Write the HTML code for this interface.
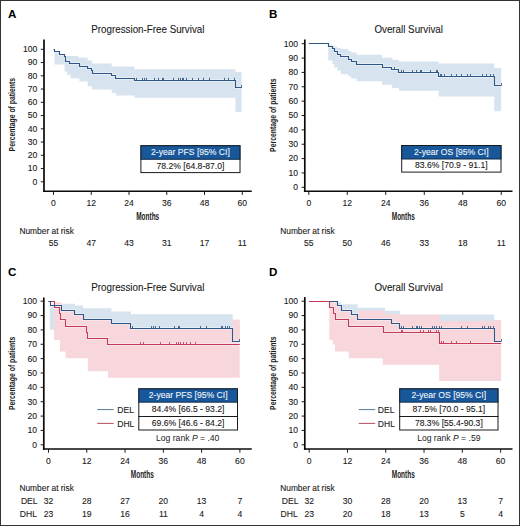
<!DOCTYPE html>
<html><head><meta charset="utf-8"><style>
html,body{margin:0;padding:0;background:#fff;}
#f{position:relative;width:520px;height:526px;overflow:hidden;background:#fff;}
#f svg{position:absolute;left:0;top:0;}
#f .bd{position:absolute;left:0;top:0;width:518px;height:524px;border:1px solid #333;}
</style></head><body><div id="f"><svg width="520" height="526" viewBox="0 0 520 526" font-family='"Liberation Sans", sans-serif'>
<path d="M54.50,51.70L59.20,51.70L59.20,54.10L64.60,54.10L64.60,56.00L78.50,56.00L78.50,57.70L87.60,57.70L87.60,60.50L92.20,60.50L92.20,63.50L111.70,63.50L111.70,66.50L134.60,66.50L134.60,69.20L235.40,69.20L235.40,72.00L241.70,72.00L241.70,111.90L235.40,111.90L235.40,97.70L134.60,97.70L134.60,95.40L115.80,95.40L115.80,93.00L111.70,93.00L111.70,89.60L92.20,89.60L92.20,86.20L87.70,86.20L87.70,81.60L79.40,81.60L79.40,78.20L70.50,78.20L70.50,74.80L67.10,74.80L67.10,71.40L64.60,71.40L64.60,64.50L54.50,64.50Z" fill="#d7e4f0"/><path d="M328.30,44.50L332.40,44.50L332.40,45.80L334.30,45.80L334.30,46.80L337.40,46.80L337.40,48.00L340.80,48.00L340.80,49.10L348.20,49.10L348.20,51.00L351.20,51.00L351.20,52.50L356.60,52.50L356.60,54.80L382.10,54.80L382.10,57.80L392.20,57.80L392.20,59.80L398.90,59.80L398.90,61.40L438.60,61.40L438.60,63.50L494.20,63.50L494.20,68.10L501.20,68.10L501.20,111.20L494.20,111.20L494.20,96.50L438.60,96.50L438.60,90.80L398.90,90.80L398.90,88.10L392.20,88.10L392.20,84.70L382.10,84.70L382.10,81.30L356.60,81.30L356.60,78.50L351.20,78.50L351.20,76.50L348.20,76.50L348.20,74.20L340.80,74.20L340.80,70.80L337.40,70.80L337.40,67.40L334.30,67.40L334.30,64.00L332.40,64.00L332.40,60.50L328.30,60.50Z" fill="#d7e4f0"/><path d="M49.80,305.60L54.10,305.60L54.10,303.00L61.30,303.00L61.30,303.70L74.80,303.70L74.80,305.60L83.20,305.60L83.20,308.30L111.40,308.30L111.40,311.40L131.00,311.40L131.00,314.20L232.80,314.20L232.80,319.80L239.70,319.80L239.70,340.00L54.10,340.00L54.10,329.70L49.80,329.70Z" fill="#d7e4f0"/><path d="M54.10,302.30L61.30,302.30L61.30,310.20L74.60,310.20L74.60,314.70L83.20,314.70L83.20,319.20L111.50,319.20L111.50,323.60L130.50,323.60L130.50,328.10L232.80,328.10L232.80,319.80L239.70,319.80L239.70,377.80L108.00,377.80L108.00,371.20L87.80,371.20L87.80,358.30L65.60,358.30L65.60,351.50L60.00,351.50L60.00,339.80L54.10,339.80Z" fill="#f7d6dc"/><path d="M337.50,302.50L341.30,302.50L341.30,304.20L357.70,304.20L357.70,307.70L385.00,307.70L385.00,310.80L400.00,310.80L400.00,314.50L494.30,314.50L494.30,320.00L501.10,320.00L501.10,330.00L337.50,330.00Z" fill="#d7e4f0"/><path d="M329.30,301.20L337.50,301.20L337.50,305.70L341.30,305.70L341.30,310.20L351.90,310.20L351.90,314.70L357.70,314.70L357.70,310.40L385.00,310.40L385.00,314.20L400.00,314.20L400.00,314.70L440.00,314.70L440.00,321.00L494.30,321.00L494.30,320.00L501.10,320.00L501.10,381.00L439.20,381.00L439.20,364.80L382.70,364.80L382.70,358.30L348.80,358.30L348.80,351.40L335.00,351.40L335.00,344.50L332.70,344.50L332.70,339.80L329.30,339.80Z" fill="#f7d6dc"/><path d="M53.50,49.50H54.50V51.50H59.50V54.50H64.50V56.50H65.50V58.50H65.50V61.50H69.50V63.50H79.50V66.50H87.50V68.50H91.50V70.50H92.50V73.50H111.50V75.50H115.50V78.50H134.50V80.50H235.50V87.50H241.70" fill="none" stroke="#ffffff" stroke-opacity="0.35" stroke-width="3"/><path d="M308.80,43.50H328.50V46.50H332.50V48.50H334.50V51.50H337.50V54.50H340.50V56.50H348.50V59.50H351.50V61.50H356.50V64.50H382.50V67.50H391.50V69.50H398.50V72.50H438.50V76.50H494.50V85.50H501.20" fill="none" stroke="#ffffff" stroke-opacity="0.35" stroke-width="3"/><path d="M48.50,301.50H50.50V305.50H61.50V310.50H74.50V314.50H83.50V319.50H111.50V323.50H130.50V328.50H232.50V341.50H239.70" fill="none" stroke="#ffffff" stroke-opacity="0.35" stroke-width="3"/><path d="M48.50,301.50H54.50V307.50H59.50V313.50H60.50V319.50H65.50V326.50H86.50V332.50H87.50V338.50H107.50V344.50H239.70" fill="none" stroke="#ffffff" stroke-opacity="0.35" stroke-width="3"/><path d="M309.20,301.50H337.50V305.50H341.50V310.50H351.50V314.50H357.50V319.50H391.50V323.50H399.50V328.50H494.50V341.50H501.10" fill="none" stroke="#ffffff" stroke-opacity="0.35" stroke-width="3"/><path d="M309.20,301.50H329.50V307.50H333.50V313.50H335.50V319.50H348.50V326.50H383.50V332.50H439.50V343.50H501.10" fill="none" stroke="#ffffff" stroke-opacity="0.35" stroke-width="3"/><path d="M53.50,49.50H54.50V51.50H59.50V54.50H64.50V56.50H65.50V58.50H65.50V61.50H69.50V63.50H79.50V66.50H87.50V68.50H91.50V70.50H92.50V73.50H111.50V75.50H115.50V78.50H134.50V80.50H235.50V87.50H241.70" fill="none" stroke="#2e5785" stroke-width="1.15"/><line x1="136.50" y1="80.50" x2="136.50" y2="77.90" stroke="#2e5785" stroke-width="0.9"/><line x1="142.50" y1="80.50" x2="142.50" y2="77.90" stroke="#2e5785" stroke-width="0.9"/><line x1="144.50" y1="80.50" x2="144.50" y2="77.90" stroke="#2e5785" stroke-width="0.9"/><line x1="146.50" y1="80.50" x2="146.50" y2="77.90" stroke="#2e5785" stroke-width="0.9"/><line x1="154.50" y1="80.50" x2="154.50" y2="77.90" stroke="#2e5785" stroke-width="0.9"/><line x1="158.50" y1="80.50" x2="158.50" y2="77.90" stroke="#2e5785" stroke-width="0.9"/><line x1="162.50" y1="80.50" x2="162.50" y2="77.90" stroke="#2e5785" stroke-width="0.9"/><line x1="163.50" y1="80.50" x2="163.50" y2="77.90" stroke="#2e5785" stroke-width="0.9"/><line x1="173.50" y1="80.50" x2="173.50" y2="77.90" stroke="#2e5785" stroke-width="0.9"/><line x1="178.50" y1="80.50" x2="178.50" y2="77.90" stroke="#2e5785" stroke-width="0.9"/><line x1="180.50" y1="80.50" x2="180.50" y2="77.90" stroke="#2e5785" stroke-width="0.9"/><line x1="182.50" y1="80.50" x2="182.50" y2="77.90" stroke="#2e5785" stroke-width="0.9"/><line x1="183.50" y1="80.50" x2="183.50" y2="77.90" stroke="#2e5785" stroke-width="0.9"/><line x1="186.50" y1="80.50" x2="186.50" y2="77.90" stroke="#2e5785" stroke-width="0.9"/><line x1="192.50" y1="80.50" x2="192.50" y2="77.90" stroke="#2e5785" stroke-width="0.9"/><line x1="198.50" y1="80.50" x2="198.50" y2="77.90" stroke="#2e5785" stroke-width="0.9"/><line x1="203.50" y1="80.50" x2="203.50" y2="77.90" stroke="#2e5785" stroke-width="0.9"/><line x1="209.50" y1="80.50" x2="209.50" y2="77.90" stroke="#2e5785" stroke-width="0.9"/><line x1="224.50" y1="80.50" x2="224.50" y2="77.90" stroke="#2e5785" stroke-width="0.9"/><line x1="228.50" y1="80.50" x2="228.50" y2="77.90" stroke="#2e5785" stroke-width="0.9"/><line x1="234.50" y1="80.50" x2="234.50" y2="77.90" stroke="#2e5785" stroke-width="0.9"/><line x1="241.50" y1="87.50" x2="241.50" y2="85.10" stroke="#2e5785" stroke-width="0.9"/><path d="M308.80,43.50H328.50V46.50H332.50V48.50H334.50V51.50H337.50V54.50H340.50V56.50H348.50V59.50H351.50V61.50H356.50V64.50H382.50V67.50H391.50V69.50H398.50V72.50H438.50V76.50H494.50V85.50H501.20" fill="none" stroke="#2e5785" stroke-width="1.15"/><line x1="394.50" y1="69.50" x2="394.50" y2="67.10" stroke="#2e5785" stroke-width="0.9"/><line x1="401.50" y1="72.50" x2="401.50" y2="70.10" stroke="#2e5785" stroke-width="0.9"/><line x1="403.50" y1="72.50" x2="403.50" y2="70.10" stroke="#2e5785" stroke-width="0.9"/><line x1="412.50" y1="72.50" x2="412.50" y2="70.10" stroke="#2e5785" stroke-width="0.9"/><line x1="416.50" y1="72.50" x2="416.50" y2="70.10" stroke="#2e5785" stroke-width="0.9"/><line x1="420.50" y1="72.50" x2="420.50" y2="70.10" stroke="#2e5785" stroke-width="0.9"/><line x1="421.50" y1="72.50" x2="421.50" y2="70.10" stroke="#2e5785" stroke-width="0.9"/><line x1="430.50" y1="72.50" x2="430.50" y2="70.10" stroke="#2e5785" stroke-width="0.9"/><line x1="436.50" y1="72.50" x2="436.50" y2="70.10" stroke="#2e5785" stroke-width="0.9"/><line x1="437.50" y1="72.50" x2="437.50" y2="70.10" stroke="#2e5785" stroke-width="0.9"/><line x1="440.50" y1="76.50" x2="440.50" y2="74.10" stroke="#2e5785" stroke-width="0.9"/><line x1="441.50" y1="76.50" x2="441.50" y2="74.10" stroke="#2e5785" stroke-width="0.9"/><line x1="444.50" y1="76.50" x2="444.50" y2="74.10" stroke="#2e5785" stroke-width="0.9"/><line x1="451.50" y1="76.50" x2="451.50" y2="74.10" stroke="#2e5785" stroke-width="0.9"/><line x1="456.50" y1="76.50" x2="456.50" y2="74.10" stroke="#2e5785" stroke-width="0.9"/><line x1="461.50" y1="76.50" x2="461.50" y2="74.10" stroke="#2e5785" stroke-width="0.9"/><line x1="467.50" y1="76.50" x2="467.50" y2="74.10" stroke="#2e5785" stroke-width="0.9"/><line x1="470.50" y1="76.50" x2="470.50" y2="74.10" stroke="#2e5785" stroke-width="0.9"/><line x1="482.50" y1="76.50" x2="482.50" y2="74.10" stroke="#2e5785" stroke-width="0.9"/><line x1="486.50" y1="76.50" x2="486.50" y2="74.10" stroke="#2e5785" stroke-width="0.9"/><line x1="490.50" y1="76.50" x2="490.50" y2="74.10" stroke="#2e5785" stroke-width="0.9"/><line x1="493.50" y1="76.50" x2="493.50" y2="74.10" stroke="#2e5785" stroke-width="0.9"/><line x1="501.50" y1="85.50" x2="501.50" y2="83.10" stroke="#2e5785" stroke-width="0.9"/><path d="M48.50,301.50H54.50V307.50H59.50V313.50H60.50V319.50H65.50V326.50H86.50V332.50H87.50V338.50H107.50V344.50H239.70" fill="none" stroke="#c23a58" stroke-width="1.15"/><path d="M48.50,301.50H50.50V305.50H61.50V310.50H74.50V314.50H83.50V319.50H111.50V323.50H130.50V328.50H232.50V341.50H239.70" fill="none" stroke="#2e5785" stroke-width="1.15"/><line x1="132.50" y1="328.50" x2="132.50" y2="326.10" stroke="#2e5785" stroke-width="0.9"/><line x1="151.50" y1="328.50" x2="151.50" y2="326.10" stroke="#2e5785" stroke-width="0.9"/><line x1="153.50" y1="328.50" x2="153.50" y2="326.10" stroke="#2e5785" stroke-width="0.9"/><line x1="155.50" y1="328.50" x2="155.50" y2="326.10" stroke="#2e5785" stroke-width="0.9"/><line x1="159.50" y1="328.50" x2="159.50" y2="326.10" stroke="#2e5785" stroke-width="0.9"/><line x1="174.50" y1="328.50" x2="174.50" y2="326.10" stroke="#2e5785" stroke-width="0.9"/><line x1="178.50" y1="328.50" x2="178.50" y2="326.10" stroke="#2e5785" stroke-width="0.9"/><line x1="179.50" y1="328.50" x2="179.50" y2="326.10" stroke="#2e5785" stroke-width="0.9"/><line x1="200.50" y1="328.50" x2="200.50" y2="326.10" stroke="#2e5785" stroke-width="0.9"/><line x1="206.50" y1="328.50" x2="206.50" y2="326.10" stroke="#2e5785" stroke-width="0.9"/><line x1="221.50" y1="328.50" x2="221.50" y2="326.10" stroke="#2e5785" stroke-width="0.9"/><line x1="222.50" y1="328.50" x2="222.50" y2="326.10" stroke="#2e5785" stroke-width="0.9"/><line x1="225.50" y1="328.50" x2="225.50" y2="326.10" stroke="#2e5785" stroke-width="0.9"/><line x1="227.50" y1="328.50" x2="227.50" y2="326.10" stroke="#2e5785" stroke-width="0.9"/><line x1="229.50" y1="328.50" x2="229.50" y2="326.10" stroke="#2e5785" stroke-width="0.9"/><line x1="140.50" y1="344.50" x2="140.50" y2="342.10" stroke="#c23a58" stroke-width="0.9"/><line x1="143.50" y1="344.50" x2="143.50" y2="342.10" stroke="#c23a58" stroke-width="0.9"/><line x1="160.50" y1="344.50" x2="160.50" y2="342.10" stroke="#c23a58" stroke-width="0.9"/><line x1="169.50" y1="344.50" x2="169.50" y2="342.10" stroke="#c23a58" stroke-width="0.9"/><line x1="176.50" y1="344.50" x2="176.50" y2="342.10" stroke="#c23a58" stroke-width="0.9"/><line x1="178.50" y1="344.50" x2="178.50" y2="342.10" stroke="#c23a58" stroke-width="0.9"/><line x1="180.50" y1="344.50" x2="180.50" y2="342.10" stroke="#c23a58" stroke-width="0.9"/><line x1="183.50" y1="344.50" x2="183.50" y2="342.10" stroke="#c23a58" stroke-width="0.9"/><line x1="186.50" y1="344.50" x2="186.50" y2="342.10" stroke="#c23a58" stroke-width="0.9"/><line x1="190.50" y1="344.50" x2="190.50" y2="342.10" stroke="#c23a58" stroke-width="0.9"/><line x1="195.50" y1="344.50" x2="195.50" y2="342.10" stroke="#c23a58" stroke-width="0.9"/><line x1="239.50" y1="341.50" x2="239.50" y2="339.10" stroke="#2e5785" stroke-width="0.9"/><path d="M309.20,301.50H337.50V305.50H341.50V310.50H351.50V314.50H357.50V319.50H391.50V323.50H399.50V328.50H494.50V341.50H501.10" fill="none" stroke="#2e5785" stroke-width="1.15"/><path d="M309.20,301.50H329.50V307.50H333.50V313.50H335.50V319.50H348.50V326.50H383.50V332.50H439.50V343.50H501.10" fill="none" stroke="#c23a58" stroke-width="1.15"/><line x1="401.50" y1="328.50" x2="401.50" y2="326.10" stroke="#2e5785" stroke-width="0.9"/><line x1="403.50" y1="328.50" x2="403.50" y2="326.10" stroke="#2e5785" stroke-width="0.9"/><line x1="412.50" y1="328.50" x2="412.50" y2="326.10" stroke="#2e5785" stroke-width="0.9"/><line x1="416.50" y1="328.50" x2="416.50" y2="326.10" stroke="#2e5785" stroke-width="0.9"/><line x1="417.50" y1="328.50" x2="417.50" y2="326.10" stroke="#2e5785" stroke-width="0.9"/><line x1="419.50" y1="328.50" x2="419.50" y2="326.10" stroke="#2e5785" stroke-width="0.9"/><line x1="421.50" y1="328.50" x2="421.50" y2="326.10" stroke="#2e5785" stroke-width="0.9"/><line x1="432.50" y1="328.50" x2="432.50" y2="326.10" stroke="#2e5785" stroke-width="0.9"/><line x1="434.50" y1="328.50" x2="434.50" y2="326.10" stroke="#2e5785" stroke-width="0.9"/><line x1="436.50" y1="328.50" x2="436.50" y2="326.10" stroke="#2e5785" stroke-width="0.9"/><line x1="439.50" y1="328.50" x2="439.50" y2="326.10" stroke="#2e5785" stroke-width="0.9"/><line x1="441.50" y1="328.50" x2="441.50" y2="326.10" stroke="#2e5785" stroke-width="0.9"/><line x1="461.50" y1="328.50" x2="461.50" y2="326.10" stroke="#2e5785" stroke-width="0.9"/><line x1="467.50" y1="328.50" x2="467.50" y2="326.10" stroke="#2e5785" stroke-width="0.9"/><line x1="482.50" y1="328.50" x2="482.50" y2="326.10" stroke="#2e5785" stroke-width="0.9"/><line x1="484.50" y1="328.50" x2="484.50" y2="326.10" stroke="#2e5785" stroke-width="0.9"/><line x1="488.50" y1="328.50" x2="488.50" y2="326.10" stroke="#2e5785" stroke-width="0.9"/><line x1="490.50" y1="328.50" x2="490.50" y2="326.10" stroke="#2e5785" stroke-width="0.9"/><line x1="493.50" y1="328.50" x2="493.50" y2="326.10" stroke="#2e5785" stroke-width="0.9"/><line x1="401.50" y1="332.50" x2="401.50" y2="330.10" stroke="#c23a58" stroke-width="0.9"/><line x1="402.50" y1="332.50" x2="402.50" y2="330.10" stroke="#c23a58" stroke-width="0.9"/><line x1="420.50" y1="332.50" x2="420.50" y2="330.10" stroke="#c23a58" stroke-width="0.9"/><line x1="423.50" y1="332.50" x2="423.50" y2="330.10" stroke="#c23a58" stroke-width="0.9"/><line x1="428.50" y1="332.50" x2="428.50" y2="330.10" stroke="#c23a58" stroke-width="0.9"/><line x1="430.50" y1="332.50" x2="430.50" y2="330.10" stroke="#c23a58" stroke-width="0.9"/><line x1="436.50" y1="332.50" x2="436.50" y2="330.10" stroke="#c23a58" stroke-width="0.9"/><line x1="438.50" y1="332.50" x2="438.50" y2="330.10" stroke="#c23a58" stroke-width="0.9"/><line x1="441.50" y1="343.50" x2="441.50" y2="341.10" stroke="#c23a58" stroke-width="0.9"/><line x1="443.50" y1="343.50" x2="443.50" y2="341.10" stroke="#c23a58" stroke-width="0.9"/><line x1="451.50" y1="343.50" x2="451.50" y2="341.10" stroke="#c23a58" stroke-width="0.9"/><line x1="456.50" y1="343.50" x2="456.50" y2="341.10" stroke="#c23a58" stroke-width="0.9"/><line x1="470.50" y1="343.50" x2="470.50" y2="341.10" stroke="#c23a58" stroke-width="0.9"/><line x1="501.50" y1="341.50" x2="501.50" y2="339.10" stroke="#2e5785" stroke-width="0.9"/><line x1="44.00" y1="39.50" x2="44.00" y2="192.00" stroke="#0a0a0a" stroke-width="1.7"/><line x1="43.15" y1="191.20" x2="251.75" y2="191.20" stroke="#0a0a0a" stroke-width="1.45"/><line x1="40.80" y1="181.80" x2="44.00" y2="181.80" stroke="#1a1a1a" stroke-width="1"/><text x="37.30" y="184.70" font-size="8.6" text-anchor="end" font-weight="normal" fill="#1a1a1a" stroke="#1a1a1a" stroke-width="0.1" >0</text><line x1="40.80" y1="168.55" x2="44.00" y2="168.55" stroke="#1a1a1a" stroke-width="1"/><text x="37.30" y="171.45" font-size="8.6" text-anchor="end" font-weight="normal" fill="#1a1a1a" stroke="#1a1a1a" stroke-width="0.1" >10</text><line x1="40.80" y1="155.30" x2="44.00" y2="155.30" stroke="#1a1a1a" stroke-width="1"/><text x="37.30" y="158.20" font-size="8.6" text-anchor="end" font-weight="normal" fill="#1a1a1a" stroke="#1a1a1a" stroke-width="0.1" >20</text><line x1="40.80" y1="142.05" x2="44.00" y2="142.05" stroke="#1a1a1a" stroke-width="1"/><text x="37.30" y="144.95" font-size="8.6" text-anchor="end" font-weight="normal" fill="#1a1a1a" stroke="#1a1a1a" stroke-width="0.1" >30</text><line x1="40.80" y1="128.80" x2="44.00" y2="128.80" stroke="#1a1a1a" stroke-width="1"/><text x="37.30" y="131.70" font-size="8.6" text-anchor="end" font-weight="normal" fill="#1a1a1a" stroke="#1a1a1a" stroke-width="0.1" >40</text><line x1="40.80" y1="115.55" x2="44.00" y2="115.55" stroke="#1a1a1a" stroke-width="1"/><text x="37.30" y="118.45" font-size="8.6" text-anchor="end" font-weight="normal" fill="#1a1a1a" stroke="#1a1a1a" stroke-width="0.1" >50</text><line x1="40.80" y1="102.30" x2="44.00" y2="102.30" stroke="#1a1a1a" stroke-width="1"/><text x="37.30" y="105.20" font-size="8.6" text-anchor="end" font-weight="normal" fill="#1a1a1a" stroke="#1a1a1a" stroke-width="0.1" >60</text><line x1="40.80" y1="89.05" x2="44.00" y2="89.05" stroke="#1a1a1a" stroke-width="1"/><text x="37.30" y="91.95" font-size="8.6" text-anchor="end" font-weight="normal" fill="#1a1a1a" stroke="#1a1a1a" stroke-width="0.1" >70</text><line x1="40.80" y1="75.80" x2="44.00" y2="75.80" stroke="#1a1a1a" stroke-width="1"/><text x="37.30" y="78.70" font-size="8.6" text-anchor="end" font-weight="normal" fill="#1a1a1a" stroke="#1a1a1a" stroke-width="0.1" >80</text><line x1="40.80" y1="62.55" x2="44.00" y2="62.55" stroke="#1a1a1a" stroke-width="1"/><text x="37.30" y="65.45" font-size="8.6" text-anchor="end" font-weight="normal" fill="#1a1a1a" stroke="#1a1a1a" stroke-width="0.1" >90</text><line x1="40.80" y1="49.30" x2="44.00" y2="49.30" stroke="#1a1a1a" stroke-width="1"/><text x="37.30" y="52.20" font-size="8.6" text-anchor="end" font-weight="normal" fill="#1a1a1a" stroke="#1a1a1a" stroke-width="0.1" >100</text><line x1="53.50" y1="191.30" x2="53.50" y2="194.90" stroke="#1a1a1a" stroke-width="1"/><text x="53.50" y="205.70" font-size="8.6" text-anchor="middle" font-weight="normal" fill="#1a1a1a" stroke="#1a1a1a" stroke-width="0.1" >0</text><line x1="91.25" y1="191.30" x2="91.25" y2="194.90" stroke="#1a1a1a" stroke-width="1"/><text x="91.25" y="205.70" font-size="8.6" text-anchor="middle" font-weight="normal" fill="#1a1a1a" stroke="#1a1a1a" stroke-width="0.1" >12</text><line x1="129.00" y1="191.30" x2="129.00" y2="194.90" stroke="#1a1a1a" stroke-width="1"/><text x="129.00" y="205.70" font-size="8.6" text-anchor="middle" font-weight="normal" fill="#1a1a1a" stroke="#1a1a1a" stroke-width="0.1" >24</text><line x1="166.76" y1="191.30" x2="166.76" y2="194.90" stroke="#1a1a1a" stroke-width="1"/><text x="166.76" y="205.70" font-size="8.6" text-anchor="middle" font-weight="normal" fill="#1a1a1a" stroke="#1a1a1a" stroke-width="0.1" >36</text><line x1="204.51" y1="191.30" x2="204.51" y2="194.90" stroke="#1a1a1a" stroke-width="1"/><text x="204.51" y="205.70" font-size="8.6" text-anchor="middle" font-weight="normal" fill="#1a1a1a" stroke="#1a1a1a" stroke-width="0.1" >48</text><line x1="242.26" y1="191.30" x2="242.26" y2="194.90" stroke="#1a1a1a" stroke-width="1"/><text x="242.26" y="205.70" font-size="8.6" text-anchor="middle" font-weight="normal" fill="#1a1a1a" stroke="#1a1a1a" stroke-width="0.1" >60</text><text transform="translate(147.70,219.60) scale(0.648,1)" x="0" y="0" font-size="10.0" text-anchor="middle" fill="#1a1a1a" font-weight="bold" stroke="#1a1a1a" stroke-width="0">Months</text><text transform="translate(15.40,114.70) rotate(-90) scale(0.7,1)" x="0" y="0" font-size="9.8" text-anchor="middle" fill="#1a1a1a" font-weight="bold" stroke="#1a1a1a" stroke-width="0">Percentage of patients</text><text transform="translate(147.88,33.30) scale(0.915,1)" font-size="10.7" text-anchor="middle" fill="#1a1a1a" stroke="#1a1a1a" stroke-width="0.1">Progression-Free Survival</text><text x="8.00" y="17.70" font-size="11.6" text-anchor="start" font-weight="bold" fill="#000"  >A</text><line x1="304.80" y1="39.50" x2="304.80" y2="192.00" stroke="#0a0a0a" stroke-width="1.7"/><line x1="303.95" y1="191.20" x2="512.50" y2="191.20" stroke="#0a0a0a" stroke-width="1.45"/><line x1="301.60" y1="187.30" x2="304.80" y2="187.30" stroke="#1a1a1a" stroke-width="1"/><text x="298.10" y="190.20" font-size="8.6" text-anchor="end" font-weight="normal" fill="#1a1a1a" stroke="#1a1a1a" stroke-width="0.1" >0</text><line x1="301.60" y1="172.94" x2="304.80" y2="172.94" stroke="#1a1a1a" stroke-width="1"/><text x="298.10" y="175.84" font-size="8.6" text-anchor="end" font-weight="normal" fill="#1a1a1a" stroke="#1a1a1a" stroke-width="0.1" >10</text><line x1="301.60" y1="158.58" x2="304.80" y2="158.58" stroke="#1a1a1a" stroke-width="1"/><text x="298.10" y="161.48" font-size="8.6" text-anchor="end" font-weight="normal" fill="#1a1a1a" stroke="#1a1a1a" stroke-width="0.1" >20</text><line x1="301.60" y1="144.22" x2="304.80" y2="144.22" stroke="#1a1a1a" stroke-width="1"/><text x="298.10" y="147.12" font-size="8.6" text-anchor="end" font-weight="normal" fill="#1a1a1a" stroke="#1a1a1a" stroke-width="0.1" >30</text><line x1="301.60" y1="129.86" x2="304.80" y2="129.86" stroke="#1a1a1a" stroke-width="1"/><text x="298.10" y="132.76" font-size="8.6" text-anchor="end" font-weight="normal" fill="#1a1a1a" stroke="#1a1a1a" stroke-width="0.1" >40</text><line x1="301.60" y1="115.50" x2="304.80" y2="115.50" stroke="#1a1a1a" stroke-width="1"/><text x="298.10" y="118.40" font-size="8.6" text-anchor="end" font-weight="normal" fill="#1a1a1a" stroke="#1a1a1a" stroke-width="0.1" >50</text><line x1="301.60" y1="101.14" x2="304.80" y2="101.14" stroke="#1a1a1a" stroke-width="1"/><text x="298.10" y="104.04" font-size="8.6" text-anchor="end" font-weight="normal" fill="#1a1a1a" stroke="#1a1a1a" stroke-width="0.1" >60</text><line x1="301.60" y1="86.78" x2="304.80" y2="86.78" stroke="#1a1a1a" stroke-width="1"/><text x="298.10" y="89.68" font-size="8.6" text-anchor="end" font-weight="normal" fill="#1a1a1a" stroke="#1a1a1a" stroke-width="0.1" >70</text><line x1="301.60" y1="72.42" x2="304.80" y2="72.42" stroke="#1a1a1a" stroke-width="1"/><text x="298.10" y="75.32" font-size="8.6" text-anchor="end" font-weight="normal" fill="#1a1a1a" stroke="#1a1a1a" stroke-width="0.1" >80</text><line x1="301.60" y1="58.06" x2="304.80" y2="58.06" stroke="#1a1a1a" stroke-width="1"/><text x="298.10" y="60.96" font-size="8.6" text-anchor="end" font-weight="normal" fill="#1a1a1a" stroke="#1a1a1a" stroke-width="0.1" >90</text><line x1="301.60" y1="43.70" x2="304.80" y2="43.70" stroke="#1a1a1a" stroke-width="1"/><text x="298.10" y="46.60" font-size="8.6" text-anchor="end" font-weight="normal" fill="#1a1a1a" stroke="#1a1a1a" stroke-width="0.1" >100</text><line x1="308.80" y1="191.30" x2="308.80" y2="194.90" stroke="#1a1a1a" stroke-width="1"/><text x="308.80" y="205.70" font-size="8.6" text-anchor="middle" font-weight="normal" fill="#1a1a1a" stroke="#1a1a1a" stroke-width="0.1" >0</text><line x1="347.29" y1="191.30" x2="347.29" y2="194.90" stroke="#1a1a1a" stroke-width="1"/><text x="347.29" y="205.70" font-size="8.6" text-anchor="middle" font-weight="normal" fill="#1a1a1a" stroke="#1a1a1a" stroke-width="0.1" >12</text><line x1="385.78" y1="191.30" x2="385.78" y2="194.90" stroke="#1a1a1a" stroke-width="1"/><text x="385.78" y="205.70" font-size="8.6" text-anchor="middle" font-weight="normal" fill="#1a1a1a" stroke="#1a1a1a" stroke-width="0.1" >24</text><line x1="424.27" y1="191.30" x2="424.27" y2="194.90" stroke="#1a1a1a" stroke-width="1"/><text x="424.27" y="205.70" font-size="8.6" text-anchor="middle" font-weight="normal" fill="#1a1a1a" stroke="#1a1a1a" stroke-width="0.1" >36</text><line x1="462.76" y1="191.30" x2="462.76" y2="194.90" stroke="#1a1a1a" stroke-width="1"/><text x="462.76" y="205.70" font-size="8.6" text-anchor="middle" font-weight="normal" fill="#1a1a1a" stroke="#1a1a1a" stroke-width="0.1" >48</text><line x1="501.25" y1="191.30" x2="501.25" y2="194.90" stroke="#1a1a1a" stroke-width="1"/><text x="501.25" y="205.70" font-size="8.6" text-anchor="middle" font-weight="normal" fill="#1a1a1a" stroke="#1a1a1a" stroke-width="0.1" >60</text><text transform="translate(403.25,219.90) scale(0.648,1)" x="0" y="0" font-size="10.0" text-anchor="middle" fill="#1a1a1a" font-weight="bold" stroke="#1a1a1a" stroke-width="0">Months</text><text transform="translate(276.30,115.20) rotate(-90) scale(0.7,1)" x="0" y="0" font-size="9.8" text-anchor="middle" fill="#1a1a1a" font-weight="bold" stroke="#1a1a1a" stroke-width="0">Percentage of patients</text><text transform="translate(408.65,33.30) scale(0.915,1)" font-size="10.7" text-anchor="middle" fill="#1a1a1a" stroke="#1a1a1a" stroke-width="0.1">Overall Survival</text><text x="269.00" y="18.00" font-size="11.6" text-anchor="start" font-weight="bold" fill="#000"  >B</text><line x1="43.80" y1="297.50" x2="43.80" y2="449.80" stroke="#0a0a0a" stroke-width="1.7"/><line x1="42.95" y1="449.00" x2="251.75" y2="449.00" stroke="#0a0a0a" stroke-width="1.45"/><line x1="40.60" y1="444.80" x2="43.80" y2="444.80" stroke="#1a1a1a" stroke-width="1"/><text x="37.10" y="447.70" font-size="8.6" text-anchor="end" font-weight="normal" fill="#1a1a1a" stroke="#1a1a1a" stroke-width="0.1" >0</text><line x1="40.60" y1="430.44" x2="43.80" y2="430.44" stroke="#1a1a1a" stroke-width="1"/><text x="37.10" y="433.34" font-size="8.6" text-anchor="end" font-weight="normal" fill="#1a1a1a" stroke="#1a1a1a" stroke-width="0.1" >10</text><line x1="40.60" y1="416.08" x2="43.80" y2="416.08" stroke="#1a1a1a" stroke-width="1"/><text x="37.10" y="418.98" font-size="8.6" text-anchor="end" font-weight="normal" fill="#1a1a1a" stroke="#1a1a1a" stroke-width="0.1" >20</text><line x1="40.60" y1="401.72" x2="43.80" y2="401.72" stroke="#1a1a1a" stroke-width="1"/><text x="37.10" y="404.62" font-size="8.6" text-anchor="end" font-weight="normal" fill="#1a1a1a" stroke="#1a1a1a" stroke-width="0.1" >30</text><line x1="40.60" y1="387.36" x2="43.80" y2="387.36" stroke="#1a1a1a" stroke-width="1"/><text x="37.10" y="390.26" font-size="8.6" text-anchor="end" font-weight="normal" fill="#1a1a1a" stroke="#1a1a1a" stroke-width="0.1" >40</text><line x1="40.60" y1="373.00" x2="43.80" y2="373.00" stroke="#1a1a1a" stroke-width="1"/><text x="37.10" y="375.90" font-size="8.6" text-anchor="end" font-weight="normal" fill="#1a1a1a" stroke="#1a1a1a" stroke-width="0.1" >50</text><line x1="40.60" y1="358.64" x2="43.80" y2="358.64" stroke="#1a1a1a" stroke-width="1"/><text x="37.10" y="361.54" font-size="8.6" text-anchor="end" font-weight="normal" fill="#1a1a1a" stroke="#1a1a1a" stroke-width="0.1" >60</text><line x1="40.60" y1="344.28" x2="43.80" y2="344.28" stroke="#1a1a1a" stroke-width="1"/><text x="37.10" y="347.18" font-size="8.6" text-anchor="end" font-weight="normal" fill="#1a1a1a" stroke="#1a1a1a" stroke-width="0.1" >70</text><line x1="40.60" y1="329.92" x2="43.80" y2="329.92" stroke="#1a1a1a" stroke-width="1"/><text x="37.10" y="332.82" font-size="8.6" text-anchor="end" font-weight="normal" fill="#1a1a1a" stroke="#1a1a1a" stroke-width="0.1" >80</text><line x1="40.60" y1="315.56" x2="43.80" y2="315.56" stroke="#1a1a1a" stroke-width="1"/><text x="37.10" y="318.46" font-size="8.6" text-anchor="end" font-weight="normal" fill="#1a1a1a" stroke="#1a1a1a" stroke-width="0.1" >90</text><line x1="40.60" y1="301.20" x2="43.80" y2="301.20" stroke="#1a1a1a" stroke-width="1"/><text x="37.10" y="304.10" font-size="8.6" text-anchor="end" font-weight="normal" fill="#1a1a1a" stroke="#1a1a1a" stroke-width="0.1" >100</text><line x1="48.50" y1="449.10" x2="48.50" y2="452.70" stroke="#1a1a1a" stroke-width="1"/><text x="48.50" y="463.50" font-size="8.6" text-anchor="middle" font-weight="normal" fill="#1a1a1a" stroke="#1a1a1a" stroke-width="0.1" >0</text><line x1="86.78" y1="449.10" x2="86.78" y2="452.70" stroke="#1a1a1a" stroke-width="1"/><text x="86.78" y="463.50" font-size="8.6" text-anchor="middle" font-weight="normal" fill="#1a1a1a" stroke="#1a1a1a" stroke-width="0.1" >12</text><line x1="125.06" y1="449.10" x2="125.06" y2="452.70" stroke="#1a1a1a" stroke-width="1"/><text x="125.06" y="463.50" font-size="8.6" text-anchor="middle" font-weight="normal" fill="#1a1a1a" stroke="#1a1a1a" stroke-width="0.1" >24</text><line x1="163.34" y1="449.10" x2="163.34" y2="452.70" stroke="#1a1a1a" stroke-width="1"/><text x="163.34" y="463.50" font-size="8.6" text-anchor="middle" font-weight="normal" fill="#1a1a1a" stroke="#1a1a1a" stroke-width="0.1" >36</text><line x1="201.62" y1="449.10" x2="201.62" y2="452.70" stroke="#1a1a1a" stroke-width="1"/><text x="201.62" y="463.50" font-size="8.6" text-anchor="middle" font-weight="normal" fill="#1a1a1a" stroke="#1a1a1a" stroke-width="0.1" >48</text><line x1="239.90" y1="449.10" x2="239.90" y2="452.70" stroke="#1a1a1a" stroke-width="1"/><text x="239.90" y="463.50" font-size="8.6" text-anchor="middle" font-weight="normal" fill="#1a1a1a" stroke="#1a1a1a" stroke-width="0.1" >60</text><text transform="translate(142.30,477.50) scale(0.648,1)" x="0" y="0" font-size="10.0" text-anchor="middle" fill="#1a1a1a" font-weight="bold" stroke="#1a1a1a" stroke-width="0">Months</text><text transform="translate(15.40,373.40) rotate(-90) scale(0.7,1)" x="0" y="0" font-size="9.8" text-anchor="middle" fill="#1a1a1a" font-weight="bold" stroke="#1a1a1a" stroke-width="0">Percentage of patients</text><text transform="translate(147.78,290.90) scale(0.915,1)" font-size="10.7" text-anchor="middle" fill="#1a1a1a" stroke="#1a1a1a" stroke-width="0.1">Progression-Free Survival</text><text x="7.90" y="275.80" font-size="11.6" text-anchor="start" font-weight="bold" fill="#000"  >C</text><line x1="304.80" y1="297.10" x2="304.80" y2="449.80" stroke="#0a0a0a" stroke-width="1.7"/><line x1="303.95" y1="449.00" x2="512.50" y2="449.00" stroke="#0a0a0a" stroke-width="1.45"/><line x1="301.60" y1="444.80" x2="304.80" y2="444.80" stroke="#1a1a1a" stroke-width="1"/><text x="298.10" y="447.70" font-size="8.6" text-anchor="end" font-weight="normal" fill="#1a1a1a" stroke="#1a1a1a" stroke-width="0.1" >0</text><line x1="301.60" y1="430.44" x2="304.80" y2="430.44" stroke="#1a1a1a" stroke-width="1"/><text x="298.10" y="433.34" font-size="8.6" text-anchor="end" font-weight="normal" fill="#1a1a1a" stroke="#1a1a1a" stroke-width="0.1" >10</text><line x1="301.60" y1="416.08" x2="304.80" y2="416.08" stroke="#1a1a1a" stroke-width="1"/><text x="298.10" y="418.98" font-size="8.6" text-anchor="end" font-weight="normal" fill="#1a1a1a" stroke="#1a1a1a" stroke-width="0.1" >20</text><line x1="301.60" y1="401.72" x2="304.80" y2="401.72" stroke="#1a1a1a" stroke-width="1"/><text x="298.10" y="404.62" font-size="8.6" text-anchor="end" font-weight="normal" fill="#1a1a1a" stroke="#1a1a1a" stroke-width="0.1" >30</text><line x1="301.60" y1="387.36" x2="304.80" y2="387.36" stroke="#1a1a1a" stroke-width="1"/><text x="298.10" y="390.26" font-size="8.6" text-anchor="end" font-weight="normal" fill="#1a1a1a" stroke="#1a1a1a" stroke-width="0.1" >40</text><line x1="301.60" y1="373.00" x2="304.80" y2="373.00" stroke="#1a1a1a" stroke-width="1"/><text x="298.10" y="375.90" font-size="8.6" text-anchor="end" font-weight="normal" fill="#1a1a1a" stroke="#1a1a1a" stroke-width="0.1" >50</text><line x1="301.60" y1="358.64" x2="304.80" y2="358.64" stroke="#1a1a1a" stroke-width="1"/><text x="298.10" y="361.54" font-size="8.6" text-anchor="end" font-weight="normal" fill="#1a1a1a" stroke="#1a1a1a" stroke-width="0.1" >60</text><line x1="301.60" y1="344.28" x2="304.80" y2="344.28" stroke="#1a1a1a" stroke-width="1"/><text x="298.10" y="347.18" font-size="8.6" text-anchor="end" font-weight="normal" fill="#1a1a1a" stroke="#1a1a1a" stroke-width="0.1" >70</text><line x1="301.60" y1="329.92" x2="304.80" y2="329.92" stroke="#1a1a1a" stroke-width="1"/><text x="298.10" y="332.82" font-size="8.6" text-anchor="end" font-weight="normal" fill="#1a1a1a" stroke="#1a1a1a" stroke-width="0.1" >80</text><line x1="301.60" y1="315.56" x2="304.80" y2="315.56" stroke="#1a1a1a" stroke-width="1"/><text x="298.10" y="318.46" font-size="8.6" text-anchor="end" font-weight="normal" fill="#1a1a1a" stroke="#1a1a1a" stroke-width="0.1" >90</text><line x1="301.60" y1="301.20" x2="304.80" y2="301.20" stroke="#1a1a1a" stroke-width="1"/><text x="298.10" y="304.10" font-size="8.6" text-anchor="end" font-weight="normal" fill="#1a1a1a" stroke="#1a1a1a" stroke-width="0.1" >100</text><line x1="309.20" y1="449.10" x2="309.20" y2="452.70" stroke="#1a1a1a" stroke-width="1"/><text x="309.20" y="463.50" font-size="8.6" text-anchor="middle" font-weight="normal" fill="#1a1a1a" stroke="#1a1a1a" stroke-width="0.1" >0</text><line x1="347.48" y1="449.10" x2="347.48" y2="452.70" stroke="#1a1a1a" stroke-width="1"/><text x="347.48" y="463.50" font-size="8.6" text-anchor="middle" font-weight="normal" fill="#1a1a1a" stroke="#1a1a1a" stroke-width="0.1" >12</text><line x1="385.76" y1="449.10" x2="385.76" y2="452.70" stroke="#1a1a1a" stroke-width="1"/><text x="385.76" y="463.50" font-size="8.6" text-anchor="middle" font-weight="normal" fill="#1a1a1a" stroke="#1a1a1a" stroke-width="0.1" >24</text><line x1="424.04" y1="449.10" x2="424.04" y2="452.70" stroke="#1a1a1a" stroke-width="1"/><text x="424.04" y="463.50" font-size="8.6" text-anchor="middle" font-weight="normal" fill="#1a1a1a" stroke="#1a1a1a" stroke-width="0.1" >36</text><line x1="462.32" y1="449.10" x2="462.32" y2="452.70" stroke="#1a1a1a" stroke-width="1"/><text x="462.32" y="463.50" font-size="8.6" text-anchor="middle" font-weight="normal" fill="#1a1a1a" stroke="#1a1a1a" stroke-width="0.1" >48</text><line x1="500.60" y1="449.10" x2="500.60" y2="452.70" stroke="#1a1a1a" stroke-width="1"/><text x="500.60" y="463.50" font-size="8.6" text-anchor="middle" font-weight="normal" fill="#1a1a1a" stroke="#1a1a1a" stroke-width="0.1" >60</text><text transform="translate(403.25,477.50) scale(0.648,1)" x="0" y="0" font-size="10.0" text-anchor="middle" fill="#1a1a1a" font-weight="bold" stroke="#1a1a1a" stroke-width="0">Months</text><text transform="translate(275.60,373.20) rotate(-90) scale(0.7,1)" x="0" y="0" font-size="9.8" text-anchor="middle" fill="#1a1a1a" font-weight="bold" stroke="#1a1a1a" stroke-width="0">Percentage of patients</text><text transform="translate(408.65,290.90) scale(0.915,1)" font-size="10.7" text-anchor="middle" fill="#1a1a1a" stroke="#1a1a1a" stroke-width="0.1">Overall Survival</text><text x="269.00" y="275.80" font-size="11.6" text-anchor="start" font-weight="bold" fill="#000"  >D</text><rect x="140.40" y="145.20" width="100.10" height="14.10" fill="#17579a"/><rect x="140.40" y="159.30" width="100.10" height="13.80" fill="#fff"/><rect x="140.90" y="145.70" width="99.10" height="26.90" fill="none" stroke="#1a1a1a" stroke-width="1"/><line x1="140.40" y1="159.30" x2="240.50" y2="159.30" stroke="#0e2a48" stroke-width="1"/><text x="190.45" y="155.00" font-size="8.6" text-anchor="middle" font-weight="normal" fill="#f2f6fb" stroke="#f2f6fb" stroke-width="0.1" >2-year PFS [95% CI]</text><text x="190.45" y="168.90" font-size="8.6" text-anchor="middle" font-weight="normal" fill="#1a1a1a" stroke="#1a1a1a" stroke-width="0.1" >78.2% [64.8-87.0]</text><rect x="401.20" y="145.00" width="100.30" height="14.00" fill="#17579a"/><rect x="401.20" y="159.00" width="100.30" height="13.60" fill="#fff"/><rect x="401.70" y="145.50" width="99.30" height="26.60" fill="none" stroke="#1a1a1a" stroke-width="1"/><line x1="401.20" y1="159.00" x2="501.50" y2="159.00" stroke="#0e2a48" stroke-width="1"/><text x="451.35" y="154.70" font-size="8.6" text-anchor="middle" font-weight="normal" fill="#f2f6fb" stroke="#f2f6fb" stroke-width="0.1" >2-year OS [95% CI]</text><text x="451.35" y="168.40" font-size="8.6" text-anchor="middle" font-weight="normal" fill="#1a1a1a" stroke="#1a1a1a" stroke-width="0.1" >83.6% [70.9 - 91.1]</text><rect x="138.30" y="388.30" width="99.70" height="13.90" fill="#17579a"/><rect x="138.30" y="402.20" width="99.70" height="28.30" fill="#fff"/><rect x="138.80" y="388.80" width="98.70" height="41.20" fill="none" stroke="#1a1a1a" stroke-width="1"/><line x1="138.30" y1="402.20" x2="238.00" y2="402.20" stroke="#0e2a48" stroke-width="1"/><text x="188.15" y="397.90" font-size="8.6" text-anchor="middle" font-weight="normal" fill="#f2f6fb" stroke="#f2f6fb" stroke-width="0.1" >2-year PFS [95% CI]</text><line x1="138.30" y1="416.50" x2="238.00" y2="416.50" stroke="#1a1a1a" stroke-width="1"/><text x="188.15" y="412.30" font-size="8.6" text-anchor="middle" font-weight="normal" fill="#1a1a1a" stroke="#1a1a1a" stroke-width="0.1" >84.4% [66.5 - 93.2]</text><text x="188.15" y="426.30" font-size="8.6" text-anchor="middle" font-weight="normal" fill="#1a1a1a" stroke="#1a1a1a" stroke-width="0.1" >69.6% [46.6 - 84.2]</text><rect x="399.20" y="388.30" width="99.30" height="13.90" fill="#17579a"/><rect x="399.20" y="402.20" width="99.30" height="28.30" fill="#fff"/><rect x="399.70" y="388.80" width="98.30" height="41.20" fill="none" stroke="#1a1a1a" stroke-width="1"/><line x1="399.20" y1="402.20" x2="498.50" y2="402.20" stroke="#0e2a48" stroke-width="1"/><text x="448.85" y="397.90" font-size="8.6" text-anchor="middle" font-weight="normal" fill="#f2f6fb" stroke="#f2f6fb" stroke-width="0.1" >2-year OS [95% CI]</text><line x1="399.20" y1="416.50" x2="498.50" y2="416.50" stroke="#1a1a1a" stroke-width="1"/><text x="448.85" y="412.30" font-size="8.6" text-anchor="middle" font-weight="normal" fill="#1a1a1a" stroke="#1a1a1a" stroke-width="0.1" >87.5% [70.0 - 95.1]</text><text x="448.85" y="426.30" font-size="8.6" text-anchor="middle" font-weight="normal" fill="#1a1a1a" stroke="#1a1a1a" stroke-width="0.1" >78.3% [55.4-90.3]</text><text x="187.7" y="441.2" font-size="8.6" text-anchor="middle" fill="#1a1a1a">Log rank <tspan font-style="italic">P</tspan> = .40</text><text x="448.8" y="441.2" font-size="8.6" text-anchor="middle" fill="#1a1a1a">Log rank <tspan font-style="italic">P</tspan> = .59</text><line x1="97.2" y1="409.6" x2="113.7" y2="409.6" stroke="#4a6a8c" stroke-width="0.9"/><line x1="97.2" y1="423.4" x2="113.7" y2="423.4" stroke="#b03a50" stroke-width="0.9"/><text x="117.20" y="412.50" font-size="8.6" text-anchor="start" font-weight="normal" fill="#1a1a1a" stroke="#1a1a1a" stroke-width="0.1" >DEL</text><text x="117.20" y="426.50" font-size="8.6" text-anchor="start" font-weight="normal" fill="#1a1a1a" stroke="#1a1a1a" stroke-width="0.1" >DHL</text><line x1="358.7" y1="409.6" x2="375.2" y2="409.6" stroke="#4a6a8c" stroke-width="0.9"/><line x1="358.7" y1="423.4" x2="375.2" y2="423.4" stroke="#b03a50" stroke-width="0.9"/><text x="377.80" y="412.50" font-size="8.6" text-anchor="start" font-weight="normal" fill="#1a1a1a" stroke="#1a1a1a" stroke-width="0.1" >DEL</text><text x="377.80" y="426.50" font-size="8.6" text-anchor="start" font-weight="normal" fill="#1a1a1a" stroke="#1a1a1a" stroke-width="0.1" >DHL</text><text x="19.40" y="233.50" font-size="8.4" text-anchor="start" font-weight="normal" fill="#1a1a1a" stroke="#1a1a1a" stroke-width="0.1" >Number at risk</text><text x="53.50" y="246.40" font-size="8.6" text-anchor="middle" font-weight="normal" fill="#1a1a1a" stroke="#1a1a1a" stroke-width="0.1" >55</text><text x="91.25" y="246.40" font-size="8.6" text-anchor="middle" font-weight="normal" fill="#1a1a1a" stroke="#1a1a1a" stroke-width="0.1" >47</text><text x="129.00" y="246.40" font-size="8.6" text-anchor="middle" font-weight="normal" fill="#1a1a1a" stroke="#1a1a1a" stroke-width="0.1" >43</text><text x="166.76" y="246.40" font-size="8.6" text-anchor="middle" font-weight="normal" fill="#1a1a1a" stroke="#1a1a1a" stroke-width="0.1" >31</text><text x="204.51" y="246.40" font-size="8.6" text-anchor="middle" font-weight="normal" fill="#1a1a1a" stroke="#1a1a1a" stroke-width="0.1" >17</text><text x="242.26" y="246.40" font-size="8.6" text-anchor="middle" font-weight="normal" fill="#1a1a1a" stroke="#1a1a1a" stroke-width="0.1" >11</text><text x="280.20" y="233.50" font-size="8.4" text-anchor="start" font-weight="normal" fill="#1a1a1a" stroke="#1a1a1a" stroke-width="0.1" >Number at risk</text><text x="308.80" y="246.40" font-size="8.6" text-anchor="middle" font-weight="normal" fill="#1a1a1a" stroke="#1a1a1a" stroke-width="0.1" >55</text><text x="347.29" y="246.40" font-size="8.6" text-anchor="middle" font-weight="normal" fill="#1a1a1a" stroke="#1a1a1a" stroke-width="0.1" >50</text><text x="385.78" y="246.40" font-size="8.6" text-anchor="middle" font-weight="normal" fill="#1a1a1a" stroke="#1a1a1a" stroke-width="0.1" >46</text><text x="424.27" y="246.40" font-size="8.6" text-anchor="middle" font-weight="normal" fill="#1a1a1a" stroke="#1a1a1a" stroke-width="0.1" >33</text><text x="462.76" y="246.40" font-size="8.6" text-anchor="middle" font-weight="normal" fill="#1a1a1a" stroke="#1a1a1a" stroke-width="0.1" >18</text><text x="501.25" y="246.40" font-size="8.6" text-anchor="middle" font-weight="normal" fill="#1a1a1a" stroke="#1a1a1a" stroke-width="0.1" >11</text><text x="19.40" y="491.00" font-size="8.4" text-anchor="start" font-weight="normal" fill="#1a1a1a" stroke="#1a1a1a" stroke-width="0.1" >Number at risk</text><text x="20.90" y="504.10" font-size="8.6" text-anchor="start" font-weight="normal" fill="#1a1a1a" stroke="#1a1a1a" stroke-width="0.1" >DEL</text><text x="48.50" y="504.10" font-size="8.6" text-anchor="middle" font-weight="normal" fill="#1a1a1a" stroke="#1a1a1a" stroke-width="0.1" >32</text><text x="86.78" y="504.10" font-size="8.6" text-anchor="middle" font-weight="normal" fill="#1a1a1a" stroke="#1a1a1a" stroke-width="0.1" >28</text><text x="125.06" y="504.10" font-size="8.6" text-anchor="middle" font-weight="normal" fill="#1a1a1a" stroke="#1a1a1a" stroke-width="0.1" >27</text><text x="163.34" y="504.10" font-size="8.6" text-anchor="middle" font-weight="normal" fill="#1a1a1a" stroke="#1a1a1a" stroke-width="0.1" >20</text><text x="201.62" y="504.10" font-size="8.6" text-anchor="middle" font-weight="normal" fill="#1a1a1a" stroke="#1a1a1a" stroke-width="0.1" >13</text><text x="239.90" y="504.10" font-size="8.6" text-anchor="middle" font-weight="normal" fill="#1a1a1a" stroke="#1a1a1a" stroke-width="0.1" >7</text><text x="19.80" y="516.70" font-size="8.6" text-anchor="start" font-weight="normal" fill="#1a1a1a" stroke="#1a1a1a" stroke-width="0.1" >DHL</text><text x="48.50" y="516.70" font-size="8.6" text-anchor="middle" font-weight="normal" fill="#1a1a1a" stroke="#1a1a1a" stroke-width="0.1" >23</text><text x="86.78" y="516.70" font-size="8.6" text-anchor="middle" font-weight="normal" fill="#1a1a1a" stroke="#1a1a1a" stroke-width="0.1" >19</text><text x="125.06" y="516.70" font-size="8.6" text-anchor="middle" font-weight="normal" fill="#1a1a1a" stroke="#1a1a1a" stroke-width="0.1" >16</text><text x="163.34" y="516.70" font-size="8.6" text-anchor="middle" font-weight="normal" fill="#1a1a1a" stroke="#1a1a1a" stroke-width="0.1" >11</text><text x="201.62" y="516.70" font-size="8.6" text-anchor="middle" font-weight="normal" fill="#1a1a1a" stroke="#1a1a1a" stroke-width="0.1" >4</text><text x="239.90" y="516.70" font-size="8.6" text-anchor="middle" font-weight="normal" fill="#1a1a1a" stroke="#1a1a1a" stroke-width="0.1" >4</text><text x="280.20" y="491.00" font-size="8.4" text-anchor="start" font-weight="normal" fill="#1a1a1a" stroke="#1a1a1a" stroke-width="0.1" >Number at risk</text><text x="281.70" y="504.10" font-size="8.6" text-anchor="start" font-weight="normal" fill="#1a1a1a" stroke="#1a1a1a" stroke-width="0.1" >DEL</text><text x="309.20" y="504.10" font-size="8.6" text-anchor="middle" font-weight="normal" fill="#1a1a1a" stroke="#1a1a1a" stroke-width="0.1" >32</text><text x="347.48" y="504.10" font-size="8.6" text-anchor="middle" font-weight="normal" fill="#1a1a1a" stroke="#1a1a1a" stroke-width="0.1" >30</text><text x="385.76" y="504.10" font-size="8.6" text-anchor="middle" font-weight="normal" fill="#1a1a1a" stroke="#1a1a1a" stroke-width="0.1" >28</text><text x="424.04" y="504.10" font-size="8.6" text-anchor="middle" font-weight="normal" fill="#1a1a1a" stroke="#1a1a1a" stroke-width="0.1" >20</text><text x="462.32" y="504.10" font-size="8.6" text-anchor="middle" font-weight="normal" fill="#1a1a1a" stroke="#1a1a1a" stroke-width="0.1" >13</text><text x="500.60" y="504.10" font-size="8.6" text-anchor="middle" font-weight="normal" fill="#1a1a1a" stroke="#1a1a1a" stroke-width="0.1" >7</text><text x="280.60" y="516.70" font-size="8.6" text-anchor="start" font-weight="normal" fill="#1a1a1a" stroke="#1a1a1a" stroke-width="0.1" >DHL</text><text x="309.20" y="516.70" font-size="8.6" text-anchor="middle" font-weight="normal" fill="#1a1a1a" stroke="#1a1a1a" stroke-width="0.1" >23</text><text x="347.48" y="516.70" font-size="8.6" text-anchor="middle" font-weight="normal" fill="#1a1a1a" stroke="#1a1a1a" stroke-width="0.1" >20</text><text x="385.76" y="516.70" font-size="8.6" text-anchor="middle" font-weight="normal" fill="#1a1a1a" stroke="#1a1a1a" stroke-width="0.1" >18</text><text x="424.04" y="516.70" font-size="8.6" text-anchor="middle" font-weight="normal" fill="#1a1a1a" stroke="#1a1a1a" stroke-width="0.1" >13</text><text x="462.32" y="516.70" font-size="8.6" text-anchor="middle" font-weight="normal" fill="#1a1a1a" stroke="#1a1a1a" stroke-width="0.1" >5</text><text x="500.60" y="516.70" font-size="8.6" text-anchor="middle" font-weight="normal" fill="#1a1a1a" stroke="#1a1a1a" stroke-width="0.1" >4</text>
</svg><div class="bd"></div></div></body></html>
